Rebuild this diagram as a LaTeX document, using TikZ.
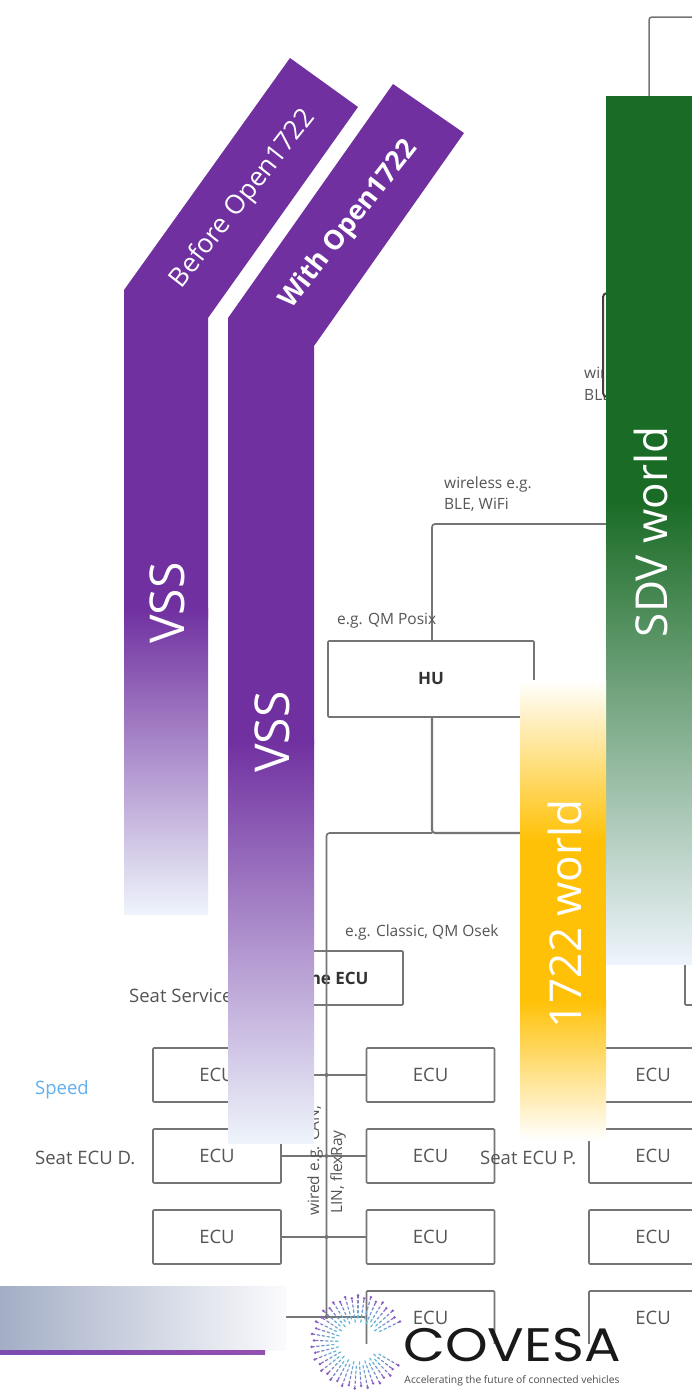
\documentclass[tikz,border=0pt]{standalone}
\usepackage{graphicx}
\usepackage{fontspec}
\setmainfont{Open Sans}
\newfontfamily\logofont{Poppins}
\usetikzlibrary{calc}
\definecolor{vio}{HTML}{7030A0}
\definecolor{fadeblue}{HTML}{EEF4FB}
\definecolor{sdvgreen}{HTML}{1A6B25}
\definecolor{gold}{HTML}{FFC107}
\definecolor{wire}{HTML}{757575}
\definecolor{lbl}{HTML}{555555}
\definecolor{speedblue}{HTML}{62B0F0}
\definecolor{spokeout}{HTML}{8A5BC0}
\definecolor{spokein}{HTML}{62BCD8}
\definecolor{slateL}{HTML}{A3AEC6}
\definecolor{slateR}{HTML}{FBFBFD}
\definecolor{ruleL}{HTML}{7B4BB0}
\definecolor{ruleR}{HTML}{9350B0}
\newcommand{\px}[1]{\fontsize{#1}{#1}\selectfont}
\tikzset{
  x=1pt,y=-1pt,
  ecubox/.style={draw=wire,line width=1.7pt,rounded corners=1pt,minimum width=128pt,minimum height=54pt,inner sep=0pt,text=lbl,font=\px{18.5}},
  wirel/.style={draw=wire,line width=1.7pt,rounded corners=3pt},
  note/.style={text=lbl,inner sep=0pt,anchor=west,font=\px{15.5}},
  tag/.style={text=lbl,inner sep=0pt,anchor=west,font=\px{18.5}},
  barlabel/.style={text=white,inner sep=0pt,rotate=90,font=\px{48}},
  banner/.style={text=white,inner sep=0pt,font=\px{26.5}},
}
\begin{document}
\begin{tikzpicture}
\clip (0,0) rectangle (692,1392);
\fill[white] (0,0) rectangle (692,1392);
% boxes
\node[ecubox,minimum width=206pt,minimum height=76pt,font=\bfseries\px{17},text=black!80] (hu) at (431,679) {\raisebox{-1pt}{HU}};
\node[ecubox,minimum width=148pt,minimum height=54pt,font=\bfseries\px{17},text=black!80] (zone) at (329,978) {Zone ECU};
\foreach \n/\yy in {1/1075,2/1156,3/1237}{
  \node[ecubox] (a\n) at (217,\yy) {\raisebox{-1pt}{ECU}};
}
\foreach \n/\yy in {1/1075,2/1156,3/1237,4/1318}{
  \node[ecubox] (b\n) at (430.5,\yy) {\raisebox{-1pt}{ECU}};
  \node[ecubox] (c\n) at (653,\yy) {\raisebox{-1pt}{ECU}};
}
\node[ecubox,minimum width=100pt,minimum height=60pt] (rbox) at (735,975) {};
\node[draw=wire,line width=1.5pt,rounded corners=3pt,minimum width=120pt,minimum height=160pt] (topbox) at (709,97) {};
% connectors
\coordinate (busTop) at (326.5,833);
\coordinate (bus4) at (326.5,1317);
\coordinate (rowfour) at (281,1317);
\coordinate (hubus) at (432,833);
\coordinate (hutop) at (432,641);
\coordinate (huwl) at (620,524);
\coordinate (goldr) at (640,833);
\draw[wirel] (hutop) |- (huwl);
\draw[wirel,line width=2.1pt] (hu.south -| hubus) -- (hubus) -- (goldr);
\draw[wirel] (bus4) -- (busTop) -- (hubus);
\draw[wirel] (a1.east) -- (b1.west);
\draw[wirel] (a2.east) -- (b2.west);
\draw[wirel] (a3.east) -- (b3.west);
\draw[wirel] (rowfour) -- (b4.west |- rowfour);
\foreach \yy in {1075,1156,1237,1317}{\fill[wire] (326.5,\yy) circle (2pt);}
% texts
\node[note] (n1) at (337,621) {e.g. QM Posix};
\node[note] (n2) at (444,484) {wireless e.g.};
\node[note] (n3) at (444,505) {BLE, WiFi};
\node[note] (n4) at (345,932) {e.g. Classic, QM Osek};
\node[note] (n5) at (584,374) {wireless e.g.};
\node[note] (n6) at (584,396) {BLE, WiFi};
\node[draw=black!75,fill=white,line width=2pt,rounded corners=4pt,minimum width=120pt,minimum height=104pt] (darkbox) at (663,345) {};
\node[tag] (t1) at (129,996) {Seat Service};
\node[tag,text=speedblue] (t2) at (35,1090) {Speed};
\node[tag] (t3) at (35,1158) {Seat ECU D.};
\node[tag] (t4) at (480,1158) {Seat ECU P.};
\node[note,rotate=90,anchor=west] (w1) at (315,1216) {wired e.g. CAN,};
\node[note,rotate=90,anchor=west] (w2) at (338,1214) {LIN, flexRay};
% logo backing
\fill[white] (300,1344) rectangle (692,1392);
% bars
\fill[vio] (124,620) -- (124,290) -- (290,58) -- (358,107) -- (208,318) -- (208,620) -- cycle;
\shade[top color=vio,bottom color=fadeblue] (124,608) rectangle (208,914);
\fill[vio] (228,745) -- (228,318) -- (393,84) -- (464,133) -- (314,346) -- (314,745) -- cycle;
\shade[top color=vio,bottom color=fadeblue] (228,740) rectangle (314,1143);
\fill[sdvgreen] (606,96) rectangle (692,500);
\shade[top color=sdvgreen,bottom color=fadeblue] (606,500) rectangle (692,964);
\shade[top color=white,bottom color=gold] (520,680) rectangle (606,840);
\fill[gold] (520,839) rectangle (606,1001);
\shade[top color=gold,bottom color=white] (520,1000) rectangle (606,1140);
\shade[left color=slateL,right color=slateR] (0,1286) rectangle (286,1350);
\shade[left color=ruleL,right color=ruleR] (0,1350) rectangle (265,1354);
% bar labels
\node[banner] (before) at (243,199) [rotate=52] {Before Open1722};
\node[banner,font=\bfseries\px{27}] (with) at (349,225) [rotate=52] {With Open1722};
\node[barlabel] (vss1) at (167,603) {VSS};
\node[barlabel] (vss2) at (272,732) {VSS};
\node[barlabel,font=\px{44}] (sdv) at (651,532) {SDV world};
\node[barlabel,font=\px{44}] (w1722) at (565,914) {1722 world};
% logo
\foreach \a [count=\i] in {30,38,...,334}{
  \pgfmathsetmacro{\st}{mod(\i,2)*4}
  \foreach \r/\p in {20/5,25/20,30/40,35/60,40/85}{
    \draw[line width=1.2pt,color=spokeout!\p!spokein,line cap=round]
      ($(358,1342)+(\a:\r+\st)$) -- ($(358,1342)+(\a:\r+\st+2.5)$);
  }
  \fill[spokeout] ($(358,1342)+(\a:44+\st/1.5)$) circle (1.4pt);
}
\node[inner sep=0pt,text=black!90,font=\logofont\px{47}] (covesa) at (512,1345) {\scalebox{1.155}[1]{COVESA}};
\node[inner sep=0pt,text=black!70,font=\px{10.3}] (slogan) at (512,1381) {Accelerating the future of connected vehicles};
\end{tikzpicture}
\end{document}
